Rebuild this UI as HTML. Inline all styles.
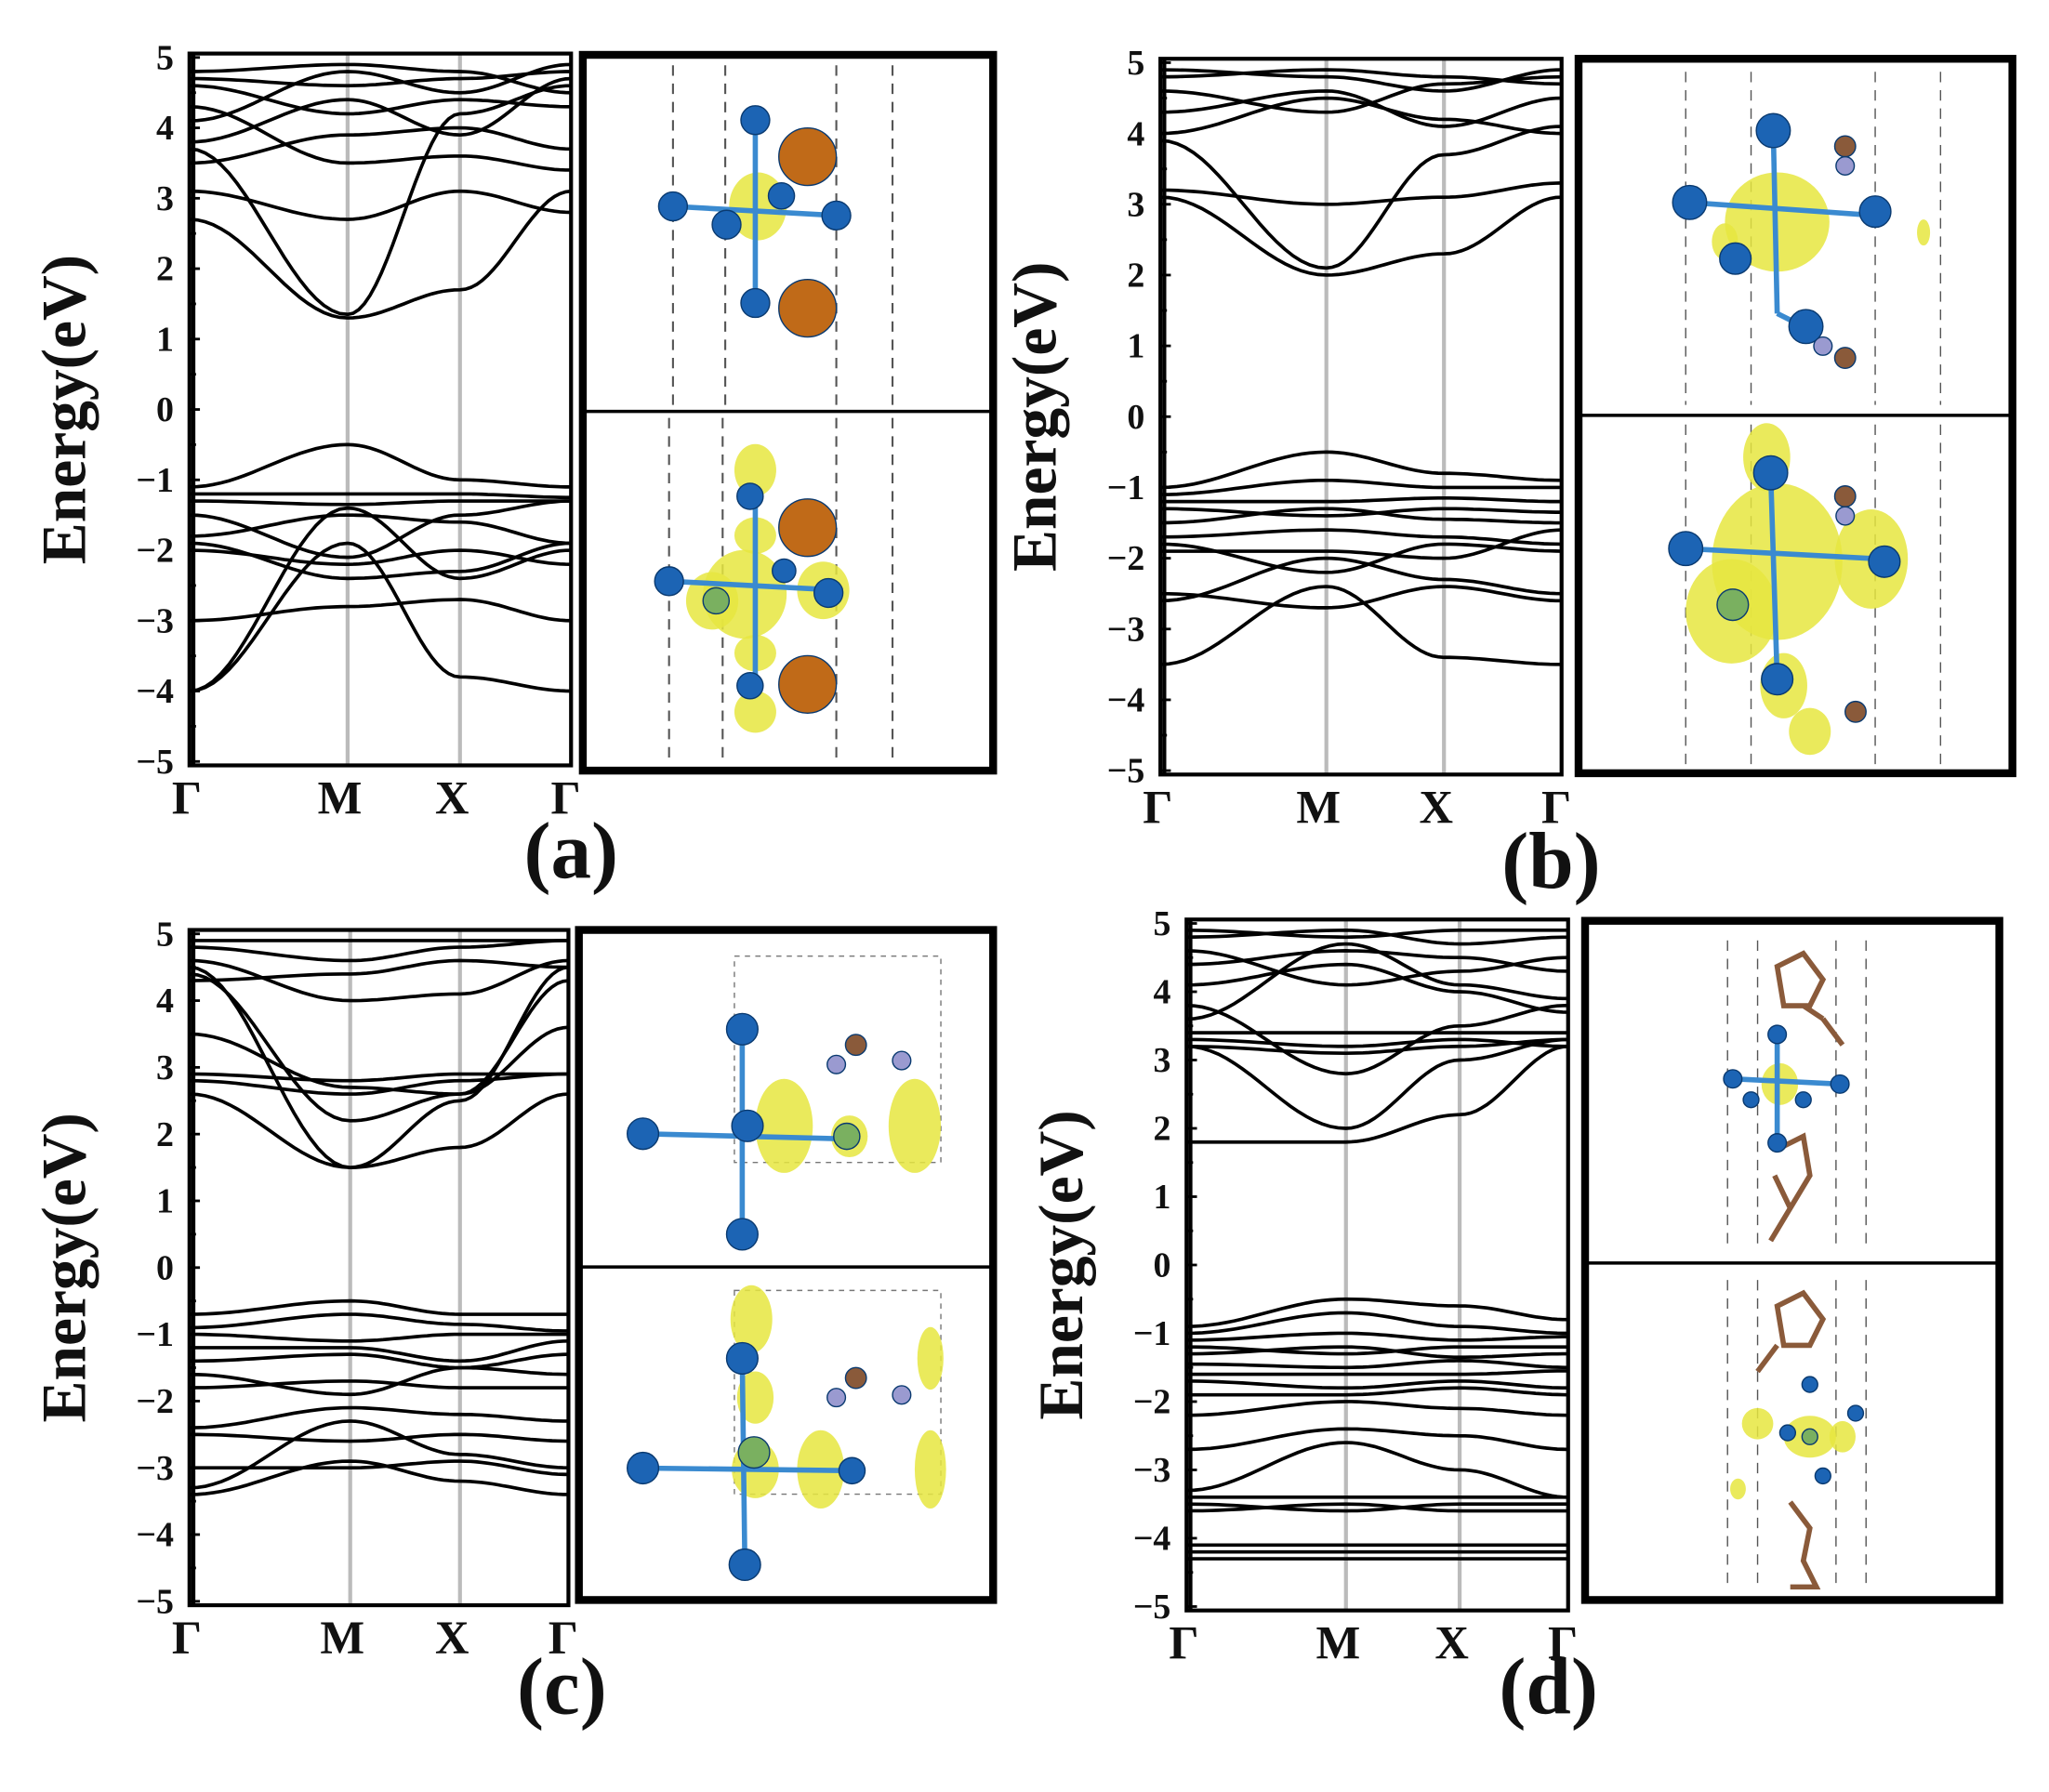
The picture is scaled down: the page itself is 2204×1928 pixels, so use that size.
<!DOCTYPE html>
<html><head><meta charset="utf-8"><style>
html,body{margin:0;padding:0;background:#fff}
svg{display:block}
text{font-family:"Liberation Serif",serif;font-weight:bold;fill:#111}
</style></head><body>
<svg id="s" width="2204" height="1928" viewBox="0 0 1568 1372" preserveAspectRatio="none" xmlns="http://www.w3.org/2000/svg"></svg>
<script>
const S=document.getElementById('s');const NS='http://www.w3.org/2000/svg';
function el(t,a,txt){const e=document.createElementNS(NS,t);for(const k in a)e.setAttribute(k,a[k]);if(txt!==undefined)e.textContent=txt;S.appendChild(e);return e;}
function panel(c){
 const {x0,x1,y5,ym5,mX,xX,bands,box,lab,title}=c;
 const yv=e=>y5+(5-e)*(ym5-y5)/10;
 // vertical gray lines
 [mX,xX].forEach(x=>el('line',{x1:x,y1:y5-3,x2:x,y2:ym5+3,stroke:'#bbb','stroke-width':3}));
 // bands
 const kx=[x0,mX,xX,x1];
 bands.forEach(b=>{let d='';
  for(let s=0;s<3;s++){for(let i=0;i<=20;i++){const t=i/20;const w=(1-Math.cos(Math.PI*t))/2;
   const e=b[s]+(b[s+1]-b[s])*w;const x=kx[s]+(kx[s+1]-kx[s])*t;d+=(d?'L':'M')+x.toFixed(1)+' '+yv(e).toFixed(1);}}
  el('path',{d,fill:'none',stroke:'#000','stroke-width':2.6});});
 // frame
 el('rect',{x:x0,y:y5-3,width:x1-x0,height:ym5-y5+6,fill:'none',stroke:'#000','stroke-width':3});
 el('line',{x1:x0+3,y1:y5-3,x2:x0+3,y2:ym5+3,stroke:'#000','stroke-width':3});
 for(let e=-5;e<=5;e++){const y=yv(e);el('line',{x1:x0,y1:y,x2:x0+8,y2:y,stroke:'#000','stroke-width':2});
  if(e<5){el('line',{x1:x0,y1:yv(e+0.5),x2:x0+5,y2:yv(e+0.5),stroke:'#000','stroke-width':2});}
  el('text',{x:x0-12,y:y+9,'font-size':27,'text-anchor':'end'},(e<0?'\u2212':'')+Math.abs(e));}
 const ly=ym5+40;
 [[x0,'Γ'],[mX,'M'],[xX,'X'],[x1,'Γ']].forEach(([x,t],i)=>el('text',{x:x+(i==0?-2:i==3?-4:-6),y:ly,'font-size':36,'text-anchor':'middle'},t));
 const cy=(y5+ym5)/2;
 el('text',{x:0,y:0,'font-size':48,'text-anchor':'middle',transform:`translate(${x0-80},${cy}) rotate(-90)`},'Energy(eV)');
 el('text',{x:lab[0],y:lab[1],'font-size':62,'text-anchor':'middle'},title);
 // right box
 const [bx,by,bw,bh,bd]=box;
 el('rect',{x:bx,y:by,width:bw,height:bh,fill:'#fff',stroke:'#000','stroke-width':6});
 el('line',{x1:bx,y1:bd,x2:bx+bw,y2:bd,stroke:'#000','stroke-width':2.5});
 c.art&&c.art(bx,by,bw,bh,bd);
}
function ball(x,y,r,col){el('circle',{cx:x,cy:y,r,fill:col,stroke:'#0a3a70','stroke-width':1});}
function blob(x,y,rx,ry){el('ellipse',{cx:x,cy:y,rx,ry,fill:'#e6e640',opacity:0.85});}
function stick(a,b,c,d){el('line',{x1:a,y1:b,x2:c,y2:d,stroke:'#3a8ad0','stroke-width':4});}
const BL='#1c64b4',OR='#c06a18';
function dash(xs,y1,y2,w){xs.forEach(x=>el('line',{x1:x,y1,x2:x,y2,stroke:'#555','stroke-width':w||1.5,'stroke-dasharray':'8 6'}));}

panel({x0:145,x1:437,y5:44,ym5:583,mX:266,xX:352,lab:[437,672],title:'(a)',box:[446,42,314,548,315],
 bands:[[2.7,1.3,1.7,3.1],[3.1,2.7,3.1,2.8],[3.7,1.35,4.2,4.6],[4.3,3.5,3.6,3.4],[3.5,3.9,4.0,3.7],[4.6,4.2,4.4,4.3],[4.7,4.6,4.7,4.8],[4.1,4.8,4.5,4.9],[4.8,4.9,4.8,4.5],[3.8,4.4,3.9,4.7],
  [-1.1,-0.5,-1.0,-1.1],[-1.2,-1.2,-1.2,-1.25],[-1.3,-1.35,-1.3,-1.3],[-1.8,-1.5,-1.6,-1.9],[-1.9,-2.4,-2.3,-1.9],[-3.0,-2.8,-2.7,-3.0],[-4.0,-1.9,-3.8,-4.0],[-4.0,-1.4,-2.4,-2.0],[-1.5,-2.1,-1.5,-1.3],[-2.0,-2.2,-2.0,-2.2]],
 art:(bx,by,bw,bh,bd)=>{dash([515,555,640,683],50,310);dash([512,553,640,683],320,580);
  blob(580,158,22,26);stick(578,92,578,232);stick(515,158,640,165);
  ball(578,92,11,BL);ball(578,232,11,BL);ball(515,158,11,BL);ball(640,165,11,BL);ball(556,172,11,BL);ball(598,150,10,BL);
  ball(618,120,22,OR);ball(618,236,22,OR);
  blob(578,360,16,20);blob(578,410,16,14);blob(570,455,32,34);blob(545,460,20,22);blob(630,452,20,22);blob(578,500,16,14);blob(578,545,16,16);
  stick(578,380,578,525);stick(512,445,645,452);
  ball(574,380,10,BL);ball(574,525,10,BL);ball(512,445,11,BL);ball(634,454,11,BL);ball(600,437,9,BL);ball(548,460,10,'#7ab060');
  ball(618,404,22,OR);ball(618,524,22,OR);}});

panel({x0:888,x1:1195,y5:48,ym5:590,mX:1015,xX:1105,lab:[1187,680],title:'(b)',box:[1208,45,332,547,318],
 bands:[[3.1,2.0,2.3,3.1],[3.2,3.0,3.1,3.3],[3.9,2.1,3.7,4.1],[4.0,4.5,4.2,4.0],[4.8,4.9,4.8,4.7],[4.9,4.8,4.6,4.9],[4.3,4.6,4.1,4.5],[4.6,4.3,4.7,4.8],
  [-1.0,-0.5,-0.8,-0.9],[-1.1,-0.9,-1.0,-1.0],[-1.2,-1.2,-1.15,-1.2],[-1.3,-1.4,-1.3,-1.35],[-1.5,-1.3,-1.45,-1.5],[-1.7,-1.6,-1.7,-1.8],[-1.9,-1.9,-2.0,-1.6],[-2.6,-2.0,-2.3,-2.5],[-3.5,-2.4,-3.4,-3.5],[-2.5,-2.7,-2.4,-2.6],[-1.8,-2.2,-1.8,-1.9]],
 art:(bx,by,bw,bh,bd)=>{dash([1290,1340,1435,1485],55,310,1);dash([1290,1340,1435,1485],325,585,1);
  blob(1360,170,40,38);blob(1320,185,10,14);blob(1472,178,5,10);stick(1357,100,1360,240);stick(1293,155,1435,165);stick(1360,240,1380,250);
  ball(1357,100,13,BL);ball(1293,155,13,BL);ball(1435,162,12,BL);ball(1328,198,12,BL);ball(1382,250,13,BL);
  ball(1412,112,8,'#8a5a3a');ball(1412,127,7,'#9a9ad0');ball(1412,274,8,'#8a5a3a');ball(1395,265,7,'#9a9ad0');
  blob(1352,350,18,26);blob(1360,430,50,60);blob(1325,468,35,40);blob(1432,428,28,38);blob(1365,525,18,25);blob(1385,560,16,18);
  stick(1355,362,1360,520);stick(1290,420,1440,428);
  ball(1355,362,13,BL);ball(1290,420,13,BL);ball(1442,430,12,BL);ball(1360,520,12,BL);ball(1326,463,12,'#7ab060');
  ball(1412,380,8,'#8a5a3a');ball(1412,395,7,'#9a9ad0');ball(1420,545,8,'#8a5a3a');}});

panel({x0:145,x1:435,y5:715,ym5:1226,mX:268,xX:352,lab:[430,1312],title:'(c)',box:[443,712,317,513,970],
 bands:[[2.6,1.5,1.8,2.6],[2.8,2.6,2.8,2.9],[2.9,2.8,2.9,2.9],[4.5,1.5,2.5,4.5],[4.4,2.2,2.6,4.3],[3.5,2.7,2.6,3.6],[4.8,4.6,4.8,4.9],[4.9,4.9,4.9,4.9],[4.6,4.0,4.1,4.6],[4.3,4.4,4.6,4.5],
  [-0.7,-0.5,-0.7,-0.7],[-0.9,-0.7,-0.85,-0.95],[-1.0,-1.1,-1.0,-1.0],[-1.2,-1.2,-1.4,-1.1],[-1.4,-1.3,-1.5,-1.3],[-1.6,-1.9,-1.5,-1.6],[-1.8,-1.7,-1.8,-1.8],[-2.4,-2.1,-2.2,-2.3],[-2.5,-2.6,-2.5,-2.6],[-3.3,-2.3,-2.8,-3.0],[-3.4,-2.9,-3.2,-3.4],[-3.0,-3.0,-2.9,-3.1]],
 art:(bx,by,bw,bh,bd)=>{el('rect',{x:562,y:732,width:158,height:158,fill:'none',stroke:'#777','stroke-dasharray':'4 4'});el('rect',{x:562,y:988,width:158,height:156,fill:'none',stroke:'#777','stroke-dasharray':'4 4'});
  blob(600,862,22,36);blob(700,862,20,36);blob(650,870,14,16);stick(568,788,568,945);stick(492,868,650,872);
  ball(568,788,12,BL);ball(568,945,12,BL);ball(492,868,12,BL);ball(572,862,12,BL);ball(648,870,10,'#7ab060');
  ball(655,800,8,'#8a5a3a');ball(640,815,7,'#9a9ad0');ball(690,812,7,'#9a9ad0');
  blob(575,1010,16,26);blob(578,1070,14,20);blob(578,1125,18,22);blob(628,1125,18,30);blob(712,1125,12,30);blob(712,1040,10,24);
  stick(568,1040,570,1198);stick(492,1124,655,1126);
  ball(568,1040,12,BL);ball(570,1198,12,BL);ball(492,1124,12,BL);ball(577,1112,12,'#7ab060');ball(652,1126,10,BL);
  ball(655,1055,8,'#8a5a3a');ball(640,1070,7,'#9a9ad0');ball(690,1068,7,'#9a9ad0');}});

panel({x0:908,x1:1200,y5:707,ym5:1230,mX:1030,xX:1117,lab:[1185,1312],title:'(d)',box:[1213,705,317,520,967],
 bands:[[1.8,1.8,2.2,3.2],[3.2,2.0,3.0,3.3],[3.3,3.2,3.3,3.2],[3.4,3.4,3.4,3.4],[3.2,3.1,3.2,3.3],[3.8,2.8,3.5,3.8],[4.1,4.4,4.0,3.7],[4.4,4.6,4.5,4.3],[4.6,4.1,4.3,4.5],[4.8,4.9,4.7,4.8],[4.9,4.8,4.9,4.9],[3.6,4.7,4.1,3.9],
  [-0.9,-0.5,-0.6,-0.8],[-1.0,-0.7,-0.9,-1.0],[-1.1,-1.0,-1.1,-1.05],[-1.2,-1.3,-1.2,-1.2],[-1.3,-1.2,-1.35,-1.3],[-1.45,-1.5,-1.4,-1.5],[-1.6,-1.6,-1.6,-1.55],[-1.7,-1.8,-1.7,-1.8],[-1.9,-1.9,-1.8,-1.9],[-2.7,-2.4,-2.5,-2.7],[-3.3,-2.6,-3.0,-3.4],[-2.2,-2.0,-2.1,-2.2],
  [-3.4,-3.4,-3.4,-3.4],[-3.5,-3.6,-3.5,-3.5],[-3.6,-3.5,-3.6,-3.6],[-4.1,-4.1,-4.1,-4.1],[-4.2,-4.2,-4.2,-4.2],[-4.3,-4.3,-4.3,-4.3]],
 art:(bx,by,bw,bh,bd)=>{dash([1322,1345,1405,1428],720,955,1);dash([1322,1345,1405,1428],980,1215,1);
  el('path',{d:'M1360 740 L1380 730 L1395 750 L1385 770 L1365 770 Z M1395 780 L1410 800 M1380 770 L1395 780',fill:'none',stroke:'#8a5a3a','stroke-width':4});
  el('path',{d:'M1360 880 L1380 870 L1385 900 L1370 925 L1355 950 M1358 900 L1370 925',fill:'none',stroke:'#8a5a3a','stroke-width':4});
  blob(1362,830,14,16);stick(1360,792,1360,875);stick(1326,826,1408,830);
  ball(1360,792,7,BL);ball(1360,875,7,BL);ball(1326,826,7,BL);ball(1408,830,7,BL);ball(1340,842,6,BL);ball(1380,842,6,BL);
  el('path',{d:'M1360 1000 L1380 990 L1395 1010 L1385 1030 L1365 1030 Z M1345 1050 L1360 1030',fill:'none',stroke:'#8a5a3a','stroke-width':4});
  el('path',{d:'M1370 1150 L1385 1170 L1380 1195 L1390 1215 L1370 1215',fill:'none',stroke:'#8a5a3a','stroke-width':4});
  blob(1385,1100,20,16);blob(1345,1090,12,12);blob(1410,1100,10,12);blob(1330,1140,6,8);
  ball(1385,1060,6,BL);ball(1368,1097,6,BL);ball(1420,1082,6,BL);ball(1395,1130,6,BL);ball(1385,1100,6,'#7ab060');}});
</script>
</body></html>
